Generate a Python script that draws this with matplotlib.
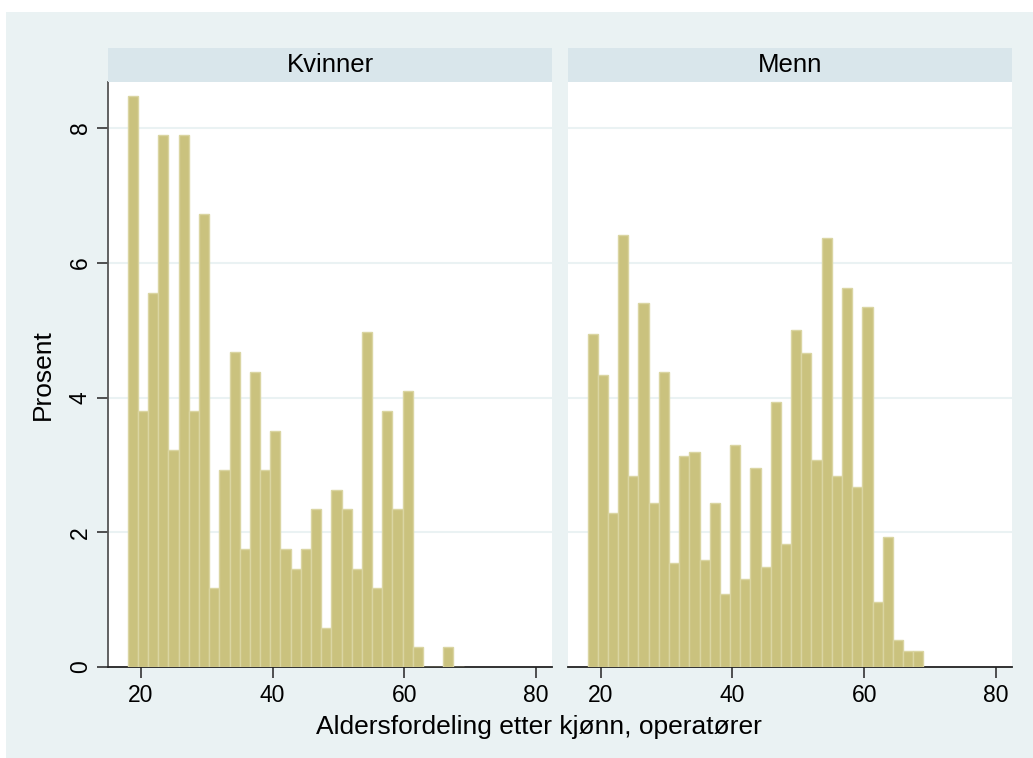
import matplotlib
matplotlib.use("Agg")
import matplotlib.pyplot as plt
from matplotlib.patches import Rectangle
import numpy as np

plt.rcParams['font.family'] = ['Liberation Sans', 'DejaVu Sans']

# histogram bins: common for both panels (age 18 to 69, 33 bins)
bin_start = 18
bin_end = 69
n_bins = 33

kvinner = [8.48, 3.80, 5.55, 7.90, 3.22, 7.90, 3.80, 6.72, 1.17, 2.92, 4.68,
           1.75, 4.38, 2.92, 3.51, 1.75, 1.46, 1.75, 2.34, 0.58, 2.63, 2.34,
           1.46, 4.97, 1.17, 3.80, 2.34, 4.09, 0.29, 0.0, 0.0, 0.29, 0.0]
menn = [4.94, 4.33, 2.28, 6.42, 2.84, 5.41, 2.44, 4.38, 1.54, 3.13, 3.19,
        1.59, 2.44, 1.08, 3.30, 1.30, 2.96, 1.48, 3.93, 1.82, 5.00, 4.66,
        3.07, 6.37, 2.84, 5.63, 2.67, 5.35, 0.97, 1.93, 0.40, 0.23, 0.23]
panels = ['Kvinner', 'Menn']
xticks = [20, 40, 60, 80]
yticks = [0, 2, 4, 6, 8]

bg = '#EAF2F3'
strip = '#D9E6EB'
bar_fill = '#CAC27E'
bar_edge = '#DAD5A2'

fig = plt.figure(figsize=(10.33, 7.58), dpi=100)
fig.patches.append(Rectangle((6 / 1033, 0), 1, (758 - 12) / 758, transform=fig.transFigure,
                             facecolor=bg, edgecolor='none', zorder=-10))

width = (bin_end - bin_start) / n_bins
edges = bin_start + width * np.arange(n_bins)

ax_left = [0.1050, 0.5501]
for i, (name, vals) in enumerate(zip(panels, [kvinner, menn])):
    ax = fig.add_axes([ax_left[i], 0.1201, 0.4293, 0.7718])
    ax.set_facecolor('white')
    ax.bar(edges, vals, width=width, align='edge', color=bar_fill,
           edgecolor=bar_edge, linewidth=1, zorder=3)
    ax.set_xlim(15.07, 82.4)
    ax.set_ylim(0, 8.685)
    ax.set_xticks(xticks)
    ax.set_yticks(yticks)
    for y in yticks[1:]:
        ax.axhline(y, color=bg, linewidth=1.5, zorder=1)
    for s in ['top', 'right']:
        ax.spines[s].set_visible(False)
    ax.spines['bottom'].set_color('#222222')
    ax.spines['bottom'].set_linewidth(1.3)
    ax.tick_params(axis='x', length=8, width=1.2, color='#333333', labelsize=16.5, pad=4)
    if i == 0:
        ax.spines['left'].set_color('#555555')
        ax.spines['left'].set_linewidth(1.3)
        ax.tick_params(axis='y', length=8, width=1.2, color='#333333', labelsize=16.5, pad=4)
        for lab in ax.get_yticklabels():
            lab.set_rotation(90)
            lab.set_va('center')
        ax.set_ylabel('Prosent', fontsize=19, labelpad=10)
    else:
        ax.spines['left'].set_visible(False)
        ax.tick_params(axis='y', left=False, labelleft=False)

    # strip header
    sx = ax.get_position().x0
    sax = fig.add_axes([sx, 0.8922, 0.4293, 0.0441])
    sax.set_facecolor(strip)
    sax.set_xticks([])
    sax.set_yticks([])
    for s in sax.spines.values():
        s.set_visible(False)
    sax.text(0.5, 0.5, name, ha='center', va='center', fontsize=18.5,
             transform=sax.transAxes)

fig.text(539 / 1033, 1 - 727 / 758, 'Aldersfordeling etter kjønn, operatører',
         ha='center', va='center', fontsize=19)

fig.savefig('out.png', dpi=100, facecolor='white')
